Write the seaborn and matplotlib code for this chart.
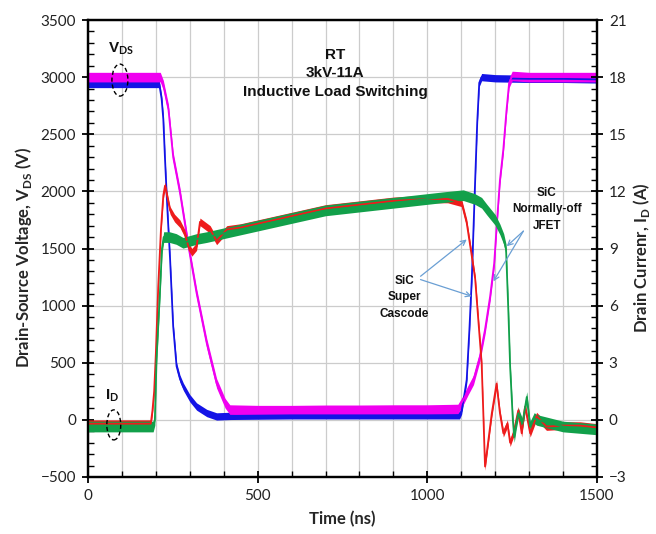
import matplotlib
matplotlib.use("Agg")
import matplotlib.pyplot as plt
from matplotlib.patches import Ellipse
from matplotlib.ticker import MultipleLocator
import numpy as np
import pandas as pd
import seaborn as sns

# ---------------- data ----------------
# Drain-source voltage (V) – SiC Super Cascode (blue)
t_vds_cascode = [0, 210, 217, 222, 227, 234, 242, 251, 261, 271, 281, 300, 320, 350, 379, 420,
                 600, 800, 1000, 1095, 1101, 1108, 1116, 1124, 1131, 1136, 1141, 1147, 1153,
                 1160, 1200, 1300, 1400, 1500]
v_vds_cascode = [2940, 2940, 2810, 2630, 2280, 1840, 1400, 820, 470, 360, 290, 190, 117, 60, 30, 35,
                 40, 40, 40, 40, 80, 200, 350, 790, 1230, 1670, 2100, 2600, 2950,
                 3000, 2990, 2985, 2985, 2980]

# Drain-source voltage (V) – SiC Normally-off JFET (magenta)
t_vds_jfet = [0, 213, 222, 237, 251, 271, 296, 320, 350, 379, 404, 418, 500, 600, 700, 800, 900,
              1000, 1090, 1106, 1120, 1136, 1155, 1170, 1185, 1197, 1207, 1214, 1224, 1233, 1241,
              1250, 1300, 1400, 1500]
v_vds_jfet = [3000, 3000, 2930, 2720, 2300, 1990, 1520, 1110, 670, 320, 146, 90, 85, 85, 88, 88, 90,
              90, 95, 175, 260, 350, 556, 790, 1080, 1370, 1810, 2100, 2370, 2700, 2950,
              3010, 3000, 3000, 3000]

# Drain current (A) – SiC Super Cascode (red)
t_id_cascode = [0, 185, 190, 195, 200, 207, 215, 222, 227, 235, 242, 255, 271, 285, 296, 306, 320,
                330, 345, 360, 379, 409, 450, 500, 600, 700, 800, 900, 1000, 1060, 1101, 1116,
                1131, 1141, 1150, 1160, 1165, 1170, 1180, 1190, 1204, 1214, 1224, 1236, 1244,
                1254, 1268, 1278, 1288, 1303, 1322, 1351, 1400, 1450, 1500]
a_id_cascode = [-0.2, -0.2, 0.5, 1.5, 3.5, 7.0, 10.0, 11.8, 12.3, 11.6, 11.0, 10.6, 10.3, 9.8, 9.1,
                8.8, 9.1, 10.4, 10.2, 10.0, 9.4, 10.0, 10.1, 10.3, 10.7, 11.1, 11.3, 11.5, 11.6,
                11.6, 11.4, 10.35, 8.6, 7.4, 5.3, 3.0, 0.35, -2.45, -1.05, 0.35, 1.9, 0.35, -0.7,
                -0.2, -1.2, -0.7, 0.5, -0.7, 0.7, -0.7, 0.2, -0.35, -0.3, -0.3, -0.4]

# Drain current (A) – SiC Normally-off JFET (green)
t_id_jfet = [0, 192, 197, 202, 212, 218, 223, 240, 260, 280, 300, 320, 350, 400, 500, 600, 700,
             800, 900, 1000, 1050, 1106, 1140, 1160, 1175, 1200, 1214, 1225, 1232, 1239, 1244,
             1252, 1256, 1262, 1268, 1280, 1293, 1303, 1315, 1322, 1400, 1500]
a_id_jfet = [-0.35, -0.35, 0.0, 3.2, 6.7, 9.0, 9.6, 9.6, 9.5, 9.3, 9.4, 9.5, 9.6, 9.8, 10.2, 10.6,
             11.0, 11.2, 11.4, 11.6, 11.7, 11.8, 11.6, 11.4, 11.05, 10.5, 10.0, 9.5, 8.95, 5.6,
             2.8, 0.0, -0.9, -0.2, 0.35, -0.2, 1.2, -0.35, 0.1, 0.0, -0.35, -0.5]

# half-width of the oscilloscope noise band seen on each trace
noise_vds_cascode = 32
noise_vds_jfet = 42
noise_id_cascode = 0.2
noise_id_jfet = 0.28

x_ticks = [0, 500, 1000, 1500]
v_ticks = [-500, 0, 500, 1000, 1500, 2000, 2500, 3000, 3500]
a_ticks = [-3, 0, 3, 6, 9, 12, 15, 18, 21]

# ---------------- style ----------------
sns.set_theme(style="ticks")
plt.rcParams["font.family"] = ["Lato", "DejaVu Sans"]
plt.rcParams["mathtext.fontset"] = "custom"
plt.rcParams["mathtext.bf"] = "Lato:bold"
plt.rcParams["mathtext.rm"] = "Lato"

C_BLUE = "#1414e6"
C_MAG = "#f000f0"
C_RED = "#ee1c1c"
C_GREEN = "#12a04a"
C_ARROW = "#6a9fd4"
C_GRID = "#cccccc"

fig = plt.figure(figsize=(6.56, 5.34), dpi=100)
ax = fig.add_axes([88 / 656, 57 / 534, 509 / 656, 457 / 534])
ax2 = ax.twinx()

df_vc = pd.DataFrame({"t": t_vds_cascode, "y": v_vds_cascode})
df_vj = pd.DataFrame({"t": t_vds_jfet, "y": v_vds_jfet})
df_ic = pd.DataFrame({"t": t_id_cascode, "y": a_id_cascode})
df_ij = pd.DataFrame({"t": t_id_jfet, "y": a_id_jfet})

def trace(a, df, color, noise):
    a.fill_between(df["t"], df["y"] - noise, df["y"] + noise, color=color, lw=0)
    sns.lineplot(data=df, x="t", y="y", ax=a, color=color, lw=1.3,
                 estimator=None, sort=False)

trace(ax, df_vc, C_BLUE, noise_vds_cascode)
trace(ax, df_vj, C_MAG, noise_vds_jfet)
trace(ax2, df_ic, C_RED, noise_id_cascode)
trace(ax2, df_ij, C_GREEN, noise_id_jfet)

ax.set_xlim(0, 1500)
ax.set_ylim(-500, 3500)
ax2.set_ylim(-3, 21)
ax.set_xticks(x_ticks)
ax.set_yticks(v_ticks)
ax2.set_yticks(a_ticks)
ax.xaxis.set_minor_locator(MultipleLocator(100))
ax.yaxis.set_minor_locator(MultipleLocator(100))
ax2.yaxis.set_minor_locator(MultipleLocator(0.6))

ax.set_axisbelow(True)
ax.grid(True, which="major", axis="y", color=C_GRID, lw=0.9)
ax.grid(True, which="both", axis="x", color=C_GRID, lw=0.9)
ax2.grid(False)

for a in (ax, ax2):
    for s in a.spines.values():
        s.set_linewidth(1.6)
        s.set_color("black")
    a.tick_params(which="major", direction="inout", length=9, width=1.3,
                  color="black", labelsize=11, labelcolor="#222222", pad=4)
    a.tick_params(which="minor", direction="in", length=4, width=1.0, color="black")
ax.tick_params(axis="x", which="both", top=False, bottom=True)
ax.tick_params(axis="y", which="both", left=True, right=False)
ax2.tick_params(axis="y", which="both", right=True, left=False)

ax.set_xlabel("Time (ns)", fontsize=12, fontweight="bold", labelpad=6)
ax.set_ylabel(r"Drain-Source Voltage, V$_{\mathbf{DS}}$ (V)", fontsize=12,
              fontweight="bold", labelpad=5)
ax2.set_ylabel(r"Drain Currenr, I$_{\mathbf{D}}$ (A)", fontsize=12,
               fontweight="bold", labelpad=3, rotation=90)
ax.yaxis.label.set_y(0.48)
ax2.yaxis.label.set_y(0.48)

# ---------------- annotations (placed in voltage / time units) ----------------
T = ax.transData
ann = dict(fontfamily="Liberation Sans", fontweight="bold", color="#111111")
ax2.text(728, 3035, "RT\n3kV-11A\nInductive Load Switching", transform=T, ha="center",
         va="center", fontsize=11, linespacing=1.4, **ann)
ax2.text(97, 3246, r"V$_{\mathbf{DS}}$", transform=T, ha="center", va="center", fontsize=11, **ann)
ax2.text(71, 211, r"I$_{\mathbf{D}}$", transform=T, ha="center", va="center", fontsize=11, **ann)
ax2.add_patch(Ellipse((94, 2974), 47, 280, transform=T, fill=False, ec="black",
                      lw=1.0, ls=(0, (3, 2)), zorder=5))
ax2.add_patch(Ellipse((76, -44), 41, 263, transform=T, fill=False, ec="black",
                      lw=1.0, ls=(0, (3, 2)), zorder=5))

ax2.text(932, 1075, "SiC\nSuper\nCascode", transform=T, ha="center", va="center",
         fontsize=8.5, linespacing=1.5, **ann)
ax2.text(1352, 1842, "SiC\nNormally-off\nJFET", transform=T, ha="center", va="center",
         fontsize=8.5, linespacing=1.5, **ann)

arrow = dict(arrowstyle="->", color=C_ARROW, lw=0.9, shrinkA=0, shrinkB=0,
             mutation_scale=9)
for (xs, ys), (xe, ye) in [((980, 1257), (1116, 1579)), ((980, 1228), (1131, 1082)),
                           ((1283, 1652), (1234, 1520)), ((1283, 1652), (1195, 1213))]:
    ax2.annotate("", xy=(xe, ye), xytext=(xs, ys), xycoords=T, textcoords=T,
                 arrowprops=arrow, zorder=6)

fig.savefig("out.png", dpi=100)
